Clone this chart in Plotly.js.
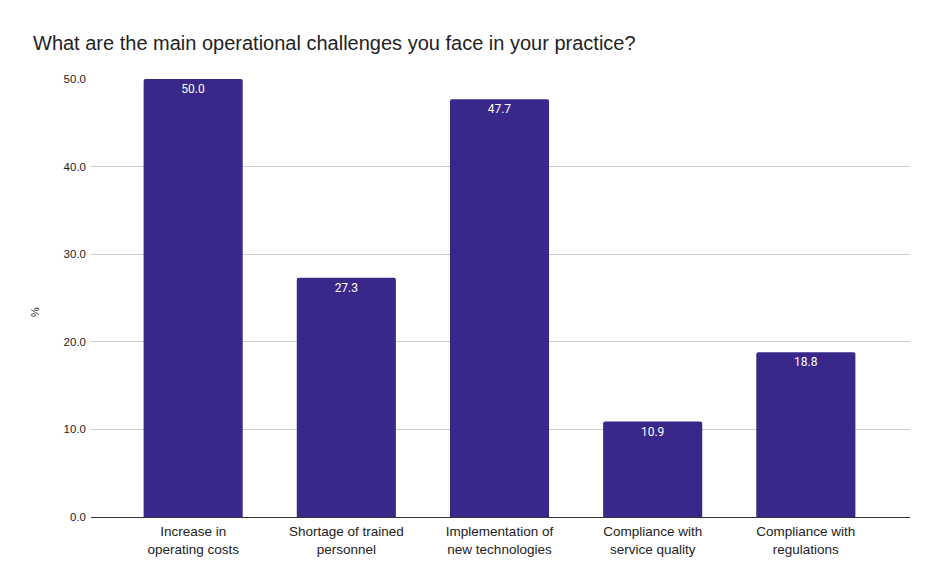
<!DOCTYPE html>
<html><head><meta charset="utf-8">
<script src="https://cdn.plot.ly/plotly-3.0.1.min.js"></script>
<style>html,body{margin:0;padding:0;background:#fff}</style>
</head><body><div id="chart" style="width:939px;height:580px"></div>
<script>
const categories = ["Increase in<br>operating costs","Shortage of trained<br>personnel","Implementation of<br>new technologies","Compliance with<br>service quality","Compliance with<br>regulations"];
const values = [50.0, 27.3, 47.7, 10.9, 18.8];
const yTicks = [0, 10, 20, 30, 40, 50];
const yTickLabels = ["0.0","10.0","20.0","30.0","40.0","50.0"];
const yAxisLabel = "%";

Plotly.newPlot("chart", [{
  type: "bar",
  x: [0,1,2,3,4],
  y: values,
  marker: {color: "#392889", cornerradius: 2},
  text: values.map(v => v.toFixed(1)),
  textposition: "inside",
  insidetextanchor: "end",
  constraintext: "none",
  textangle: 0,
  textfont: {family: "Roboto, Arial, sans-serif", size: 12, color: "#ffffff"},
  hoverinfo: "none"
}], {
  width: 939, height: 580,
  margin: {l: 91, r: 29, t: 79, b: 63},
  paper_bgcolor: "#fff", plot_bgcolor: "#fff",
  bargap: 0.353,
  title: {text: "What are the main operational challenges you face in your practice?", x: 33/939, xanchor: "left", y: 1-43/580, yanchor: "middle", font: {family: "Liberation Sans, Arial, sans-serif", size: 20, color: "#222"}},
  xaxis: {
    range: [-0.667, 4.68], tickmode: "array", tickvals: [0,1,2,3,4], ticktext: categories,
    showgrid: false, zeroline: false, showline: true, linecolor: "#333", linewidth: 1,
    ticks: "", ticklabelstandoff: 2, tickfont: {family: "Liberation Sans, Arial, sans-serif", size: 13.5, color: "#222"}
  },
  yaxis: {
    range: [0, 50], tickmode: "array", tickvals: yTicks, ticktext: yTickLabels,
    showgrid: true, gridcolor: "#cccccc", zeroline: false, ticks: "", ticklen: 0,
    ticklabelstandoff: 4,
    tickfont: {family: "Liberation Sans, Arial, sans-serif", size: 11.5, color: "#222"}
  },
  annotations: [{
    text: yAxisLabel, xref: "paper", yref: "paper",
    x: (35-91)/(939-91-29), y: (517-312)/(517-79), xanchor: "center", yanchor: "middle",
    textangle: -90, showarrow: false,
    font: {family: "Liberation Sans, Arial, sans-serif", size: 11, color: "#222"}
  }],
  showlegend: false
}, {displayModeBar: false, staticPlot: true});
</script></body></html>
